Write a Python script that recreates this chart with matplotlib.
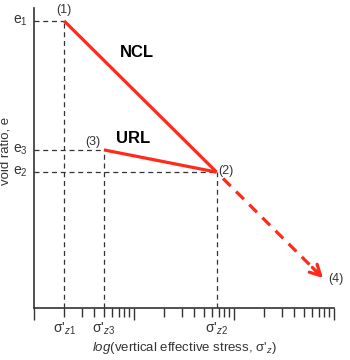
import matplotlib
matplotlib.use("Agg")
import matplotlib.pyplot as plt
import numpy as np
from matplotlib.ticker import FixedLocator, NullFormatter

plt.rcParams['font.family'] = ['Liberation Sans', 'DejaVu Sans']
plt.rcParams['mathtext.fontset'] = 'custom'
plt.rcParams['mathtext.rm'] = 'Liberation Sans'
plt.rcParams['mathtext.it'] = 'Liberation Sans:italic'
plt.rcParams['mathtext.bf'] = 'Liberation Sans:bold'

# Data (log stress, void ratio normalised)
point_names = ["(1)", "(2)", "(3)", "(4)"]
stress = [2.0, 67.0, 5.0, 776.0]      # sigma'_z1, sigma'_z2, sigma'_z3, end
void_ratio = [0.957, 0.453, 0.527, 0.10]  # e1, e2, e3, e4
x_tick_labels = [r"σ'$_{\mathit{z1}}$", r"σ'$_{\mathit{z2}}$", r"σ'$_{\mathit{z3}}$"]
y_tick_labels = [r"e$_{1}$", r"e$_{2}$", r"e$_{3}$"]

RED = '#ff2a1a'
GRAY = '#333333'
TXT = '#333333'

fig = plt.figure(figsize=(3.5, 3.6), dpi=100)
ax = fig.add_axes([34/350, 1 - 308/360, 300/350, 300/360])
ax.set_xscale('log')
ax.set_xlim(1, 1000)
ax.set_ylim(0, 1)

s1, s2, s3, s4 = stress
e1, e2, e3, e4 = void_ratio

# reference dashed lines
dkw = dict(color=GRAY, lw=0.9, ls=(0, (4, 3)), zorder=1)
for s, e in [(s1, e1), (s3, e3), (s2, e2)]:
    ax.plot([1, s], [e, e], **dkw)
    ax.plot([s, s], [0, e], **dkw)

# NCL and URL
ax.plot([s1, s2], [e1, e2], color=RED, lw=2.3, solid_capstyle='butt', zorder=3)
ax.plot([s3, s2], [e3, e2], color=RED, lw=2.3, solid_capstyle='butt', zorder=3)

# dashed continuation with arrow
def frac_pt(f):
    lx = np.log10(s2) + f * (np.log10(s4) - np.log10(s2))
    return 10 ** lx, e2 + f * (e4 - e2)

xa, ya = frac_pt(0.06)
xb, yb = frac_pt(0.93)
xc, yc = frac_pt(0.90)
ax.plot([xa, xb], [ya, yb], color=RED, lw=2.3, ls=(0, (3.4, 2.4)), dash_capstyle='butt', zorder=3)
ax.annotate('', xy=(s4, e4), xytext=(xc, yc),
            arrowprops=dict(arrowstyle='->,head_length=0.75,head_width=0.4', color=RED,
                            lw=2.3, shrinkA=0, shrinkB=0),
            zorder=3)

# spines
for sp in ['top', 'right']:
    ax.spines[sp].set_visible(False)
for sp in ['left', 'bottom']:
    ax.spines[sp].set_color(GRAY)
    ax.spines[sp].set_linewidth(1.2)

# ticks
ax.xaxis.set_major_locator(FixedLocator([1, 10, 100, 1000]))
minor = [m * d for d in [1, 10, 100] for m in range(2, 10)]
ax.xaxis.set_minor_locator(FixedLocator(minor))
ax.xaxis.set_major_formatter(NullFormatter())
ax.xaxis.set_minor_formatter(NullFormatter())
ax.tick_params(axis='x', which='major', length=8.5, width=1.0, color=GRAY, direction='out')
ax.tick_params(axis='x', which='minor', length=6.5, width=1.0, color=GRAY, direction='out')
ax.set_yticks([])

# tick labels
ty = -0.07
for s, lab in zip([s1, s2, s3], x_tick_labels):
    ax.text(s, ty, lab, transform=ax.get_xaxis_transform(), ha='center', va='center',
            fontsize=10, color=TXT)
for e, lab in zip([e1, e2, e3], y_tick_labels):
    ax.text(-0.022, e, lab, transform=ax.get_yaxis_transform(), ha='right', va='center',
            fontsize=10, color=TXT)

# axis labels
fig.text(184/350, 1 - 348/360, r"$\mathit{log(}$vertical effective stress, σ'$_{\mathit{z}}$)",
         ha='center', va='center', fontsize=9.5, color=TXT)
fig.text(6/350, 1 - 151/360, "void ratio, e", rotation=90, ha='center', va='center',
         fontsize=9.5, color=TXT)

# point labels
ax.text(s1, e1 + 0.015, "(1)", ha='center', va='bottom', fontsize=9, color=TXT)
ax.text(s2 * 1.05, e2 + 0.003, "(2)", ha='left', va='center', fontsize=9, color=TXT)
ax.text(s3 * 0.93, e3 + 0.008, "(3)", ha='right', va='bottom', fontsize=9, color=TXT)
ax.text(s4 * 1.12, e4 - 0.003, "(4)", ha='left', va='center', fontsize=9, color=TXT, clip_on=False)

ax.text(10 ** 1.03, 0.853, "NCL", ha='center', va='center', fontsize=12, fontweight='bold', color='black')
ax.text(10 ** 0.99, 0.565, "URL", ha='center', va='center', fontsize=12, fontweight='bold', color='black')

fig.savefig('out.png', dpi=100)
